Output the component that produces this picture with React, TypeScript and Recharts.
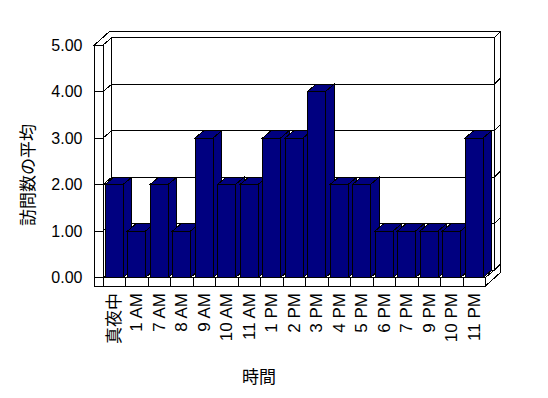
import React from 'react';
import { BarChart, Bar, XAxis, YAxis, CartesianGrid, ReferenceArea, Customized } from 'recharts';

const categories = ['真夜中', '1 AM', '7 AM', '8 AM', '9 AM', '10 AM', '11 AM', '1 PM', '2 PM', '3 PM', '4 PM', '5 PM', '6 PM', '7 PM', '9 PM', '10 PM', '11 PM'];
const visitAverages = [2, 1, 2, 1, 3, 2, 2, 3, 3, 4, 2, 2, 1, 1, 1, 1, 3];
const yTicks = [0, 1, 2, 3, 4, 5];
const xTitle = '時間';
const yTitle = '訪問数の平均';

const data = categories.map((c, i) => ({ hour: c, avg: visitAverages[i] }));

const W = 548;
const H = 398;
const PLOT_LEFT = 103;
const PLOT_RIGHT = 485.5;
const PLOT_TOP = 45;
const PLOT_BOTTOM = 277.5;
const Y_AXIS_W = 80;
const X_AXIS_H = H - PLOT_BOTTOM;
const X_TICK_MARGIN = 15.5;
const Y_TICK_MARGIN = 20.5;
const DX = 8.7;
const DY = -7.3;
const EX = 6;
const EY = -6;
const WALL = 8.5;
const FLOOR = 8.5;
const NAVY = '#000080';
const FONT = '"Liberation Sans", Arial, "Noto Sans CJK JP", sans-serif';

const pts = (a: number[]) => a.join(' ');

const Bar3D = (p: any) => {
  const { x, y, width: w, height: h } = p;
  if (x == null || h == null) return null;
  return (
    <g stroke="#000" strokeWidth={1} fill={NAVY} shapeRendering="crispEdges">
      <polygon points={pts([x + w, y, x + w + DX, y + DY, x + w + DX, y + h + DY, x + w, y + h])} />
      <polygon points={pts([x, y, x + DX, y + DY, x + w + DX, y + DY, x + w, y])} />
      <rect x={x} y={y} width={w} height={h} />
    </g>
  );
};

const Frame = (p: any) => {
  const { x, y, width, height } = p;
  if (x == null) return null;
  const X0 = x;
  const X1 = x + width;
  const Y5 = y;
  const Y0 = y + height;
  return (
    <g fill="none" stroke="#000" strokeWidth={1} shapeRendering="crispEdges">
      <rect x={X0 + DX} y={Y5 + DY} width={X1 - X0} height={Y0 - Y5} />
      <rect x={X0 - WALL} y={Y5} width={WALL} height={Y0 + FLOOR - Y5} />
      <polygon points={pts([X0, Y5, X0 + DX, Y5 + DY, X0 + DX, Y0 + DY, X0, Y0])} />
      <polygon
        points={pts([
          X0 - WALL, Y5,
          X0, Y5,
          X0 + DX, Y5 + DY,
          X1 + DX, Y5 + DY,
          X1 + DX + EX, Y5 + DY + EY,
          X0 - WALL + DX + EX, Y5 + DY + EY,
        ])}
      />
      <rect x={X0 - WALL} y={Y0} width={X1 - X0 + WALL} height={FLOOR} />
      <polygon
        points={pts([
          X1, Y0,
          X1, Y0 + FLOOR,
          X1 + DX + EX, Y0 + FLOOR + DY + EY,
          X1 + DX + EX, Y5 + DY + EY,
          X1 + DX, Y5 + DY,
          X1 + DX, Y0 + DY,
        ])}
      />
    </g>
  );
};

const GridLine = (p: any) => {
  const { x1, x2, y1 } = p;
  return (
    <g key={`gl-${y1}`} stroke="#000" strokeWidth={1} fill="none" shapeRendering="crispEdges">
      <line x1={x1 - WALL} y1={y1} x2={x1} y2={y1} />
      <line x1={x1} y1={y1} x2={x1 + DX} y2={y1 + DY} />
      <line x1={x1 + DX} y1={y1 + DY} x2={x2 + DX} y2={y1 + DY} />
      <line x1={x2 + DX} y1={y1 + DY} x2={x2 + DX + EX} y2={y1 + DY + EY} />
    </g>
  );
};

const XTick = (p: any) => {
  const { x, y, payload } = p;
  const half =
    payload && typeof payload.offset === 'number' && payload.offset > 0
      ? payload.offset
      : (PLOT_RIGHT - PLOT_LEFT) / categories.length / 2;
  const y0 = y - X_TICK_MARGIN;
  const idx = payload?.index ?? categories.indexOf(payload?.value);
  return (
    <g>
      {idx > 0 && (
        <line x1={x - half} y1={y0} x2={x - half} y2={y0 + FLOOR} stroke="#000" shapeRendering="crispEdges" />
      )}
      <text
        x={x}
        y={y}
        transform={`rotate(-90 ${x} ${y})`}
        textAnchor="end"
        dominantBaseline="central"
        fontFamily={FONT}
        fontSize={17}
        fill="#000"
      >
        {payload.value}
      </text>
    </g>
  );
};

const Titles = () => (
  <g>
    <text
      x={28}
      y={175}
      transform="rotate(-90 28 175)"
      textAnchor="middle"
      dominantBaseline="central"
      fontFamily={FONT}
      fontSize={17}
      fill="#000"
    >
      {yTitle}
    </text>
    <text x={259} y={377} textAnchor="middle" dominantBaseline="central" fontFamily={FONT} fontSize={17} fill="#000">
      {xTitle}
    </text>
  </g>
);

export default function App() {
  return (
    <div style={{ position: 'absolute', left: 0, top: 0, width: W, height: H, background: '#fff' }}>
      <BarChart
        width={W}
        height={H}
        data={data}
        margin={{ top: PLOT_TOP, right: W - PLOT_RIGHT, left: PLOT_LEFT - Y_AXIS_W, bottom: 0 }}
        barCategoryGap="9%"
      >
        <ReferenceArea y1={0} y2={5} shape={Frame} ifOverflow="visible" />
        <CartesianGrid vertical={false} horizontal={GridLine} />
        <XAxis
          dataKey="hour"
          type="category"
          height={X_AXIS_H}
          interval={0}
          axisLine={false}
          tickLine={false}
          tickSize={0}
          tickMargin={X_TICK_MARGIN}
          tick={XTick}
        />
        <YAxis
          type="number"
          domain={[0, 5]}
          ticks={yTicks}
          width={Y_AXIS_W}
          axisLine={false}
          tickLine={false}
          tickSize={0}
          tickMargin={Y_TICK_MARGIN}
          tickFormatter={(v: number) => v.toFixed(2)}
          tick={{ fontSize: 16, fill: '#000', fontFamily: FONT }}
        />
        <Bar dataKey="avg" shape={Bar3D} isAnimationActive={false} />
        <Customized component={Titles} />
      </BarChart>
    </div>
  );
}
